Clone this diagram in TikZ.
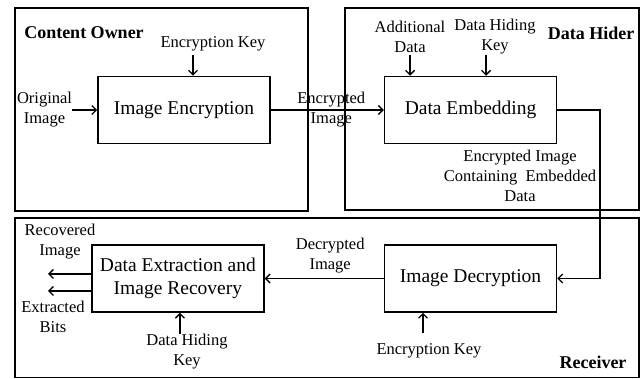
\documentclass[tikz,border=0pt]{standalone}
\usepackage{fontspec}
\setmainfont{Liberation Serif}
\usetikzlibrary{calc,positioning,arrows.meta}
\tikzstyle{block}=[draw,line width=1.6pt,minimum width=172pt,minimum height=67pt,font=\rmfamily\fontsize{19.5}{23}\selectfont,align=center]
\tikzstyle{frame}=[draw,line width=1.8pt]
\tikzstyle{lbl}=[font=\rmfamily\fontsize{16.5}{20}\selectfont,align=center,inner sep=0pt]
\tikzstyle{party}=[font=\rmfamily\fontsize{18}{20}\selectfont\bfseries,inner sep=0pt]
\tikzset{
	flow/.style={line width=1.3pt,-{Straight Barb[length=4.5pt,width=9pt]}}
}

\begin{document}
\begin{tikzpicture}[x=1pt,y=-1pt]
    \useasboundingbox (0,0) rectangle (641,379);

    % the three parties
    \draw[frame] (15,8) rectangle (308,211);
    \draw[frame] (345,8) rectangle (639,210);
    \draw[frame] (15,218) rectangle (639,377.5);
    \node[party] (owner) at (84,33) {Content Owner};
    \node[party] (hider) at (591,33) {Data Hider};
    \node[party] (recv) at (593,362) {Receiver};

    % processing blocks
    \node[block] (enc) at (184,110) {Image Encryption};
    \node[block, right=113pt of enc] (emb) {Data Embedding};
    \node[block] (dec) at (470.5,278.5) {Image Decryption};
    \node[block, left=119pt of dec] (ext) {Data Extraction and\\Image Recovery};

    % content owner
    \node[lbl, left=25pt of enc] (orig) {Original\\Image};
    \draw[flow] (orig) -- (enc);
    \coordinate (ekeyin) at ([xshift=9pt]enc.north);
    \node[lbl] (ekey) at (213,44) {Encryption Key};
    \draw[flow] ([yshift=21pt]ekeyin) -- (ekeyin);
    \draw[flow] (enc) -- node[lbl, xshift=4pt] {Encrypted\\Image} (emb);

    % data hider
    \coordinate (adin) at ([xshift=-60.5pt]emb.north);
    \coordinate (hkin) at ([xshift=15.5pt]emb.north);
    \node[lbl] (adata) at (410,37) {Additional\\Data};
    \node[lbl] (hkey) at (495,37) {Data Hiding\\Key};
    \draw[flow] ([yshift=21pt]adin) -- (adin);
    \draw[flow] ([yshift=21pt]hkin) -- (hkin);
    \node[lbl] (embout) at (520,176) {Encrypted Image\\Containing\ \ Embedded\\Data};
    \coordinate (bend) at (600,0);
    \draw[flow] (emb.east) -- (emb.east -| bend) -- (dec.east -| bend) -- (dec.east);

    % receiver
    \draw[flow] (dec) -- node[lbl, above=5pt, xshift=6pt] {Decrypted\\Image} (ext);
    \coordinate (dkin) at ([xshift=-47.5pt]dec.south);
    \node[lbl] (dkey) at (429,351) {Encryption Key};
    \draw[flow] ([yshift=-20pt]dkin) -- (dkin);
    \coordinate (xkin) at ([xshift=2pt]ext.south);
    \node[lbl] (xkey) at (187,352) {Data Hiding\\Key};
    \draw[flow] ([yshift=-21pt]xkin) -- (xkin);
    \coordinate (recout) at (48,274);
    \coordinate (bitout) at (48,291);
    \draw[flow] (ext.west |- recout) -- (recout);
    \draw[flow] (ext.west |- bitout) -- (bitout);
    \node[lbl] (rec) at (60,242) {Recovered\\Image};
    \node[lbl] (bits) at (53,317) {Extracted\\Bits};
\end{tikzpicture}
\end{document}
